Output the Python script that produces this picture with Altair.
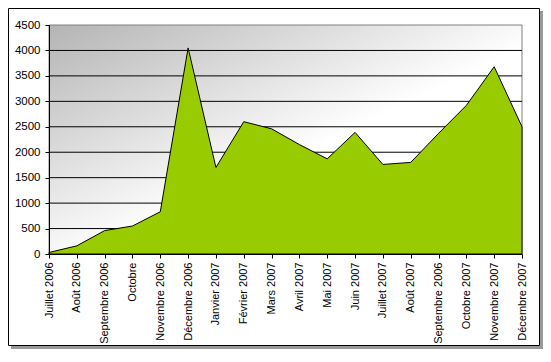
import altair as alt
import pandas as pd

months = ["Juillet 2006", "Août 2006", "Septembre 2006", "Octobre", "Novembre 2006",
          "Décembre 2006", "Janvier 2007", "Février 2007", "Mars 2007", "Avril 2007",
          "Mai 2007", "Juin 2007", "Juillet 2007", "Août 2007", "Septembre 2006",
          "Octobre 2007", "Novembre 2007", "Décembre 2007"]
values = [30, 160, 460, 550, 830, 4050, 1700, 2600, 2460, 2150, 1870, 2390,
          1760, 1800, 2370, 2920, 3680, 2500]
y_ticks = [0, 500, 1000, 1500, 2000, 2500, 3000, 3500, 4000, 4500]
grid_values = [500, 1000, 1500, 2000, 2500, 3000, 3500, 4000]

df = pd.DataFrame({"i": list(range(len(months))), "v": values})
grid_df = pd.DataFrame({"g": grid_values})
one = pd.DataFrame({"k": [0]})

W, H = 473, 229
label_expr = "[" + ",".join("'" + m + "'" for m in months) + "][datum.value]"

x_scale = alt.Scale(domain=[0, len(months) - 1], nice=False, zero=False)
y_scale = alt.Scale(domain=[0, 4500], nice=False)

x_axis = alt.Axis(values=list(range(len(months))), labelExpr=label_expr,
                  labelAngle=-90, title=None, grid=False, zindex=1,
                  labelOverlap=False, labelBound=False, labelFlush=False,
                  domainColor="black", tickColor="black", tickSize=4,
                  labelPadding=4, labelFontSize=11, labelColor="black",
                  labelFont="Liberation Sans")
y_axis = alt.Axis(values=y_ticks, title=None, grid=False, zindex=1,
                  format="d", labelOverlap=False, labelFlush=False,
                  domainColor="black", tickColor="black", tickSize=4,
                  labelPadding=5, labelFontSize=11.5, labelColor="black",
                  labelFont="Liberation Sans")

shadow = alt.Chart(one).mark_rect(fill="#9a9a9a").encode(
    x=alt.value(-38), x2=alt.value(494), y=alt.value(-14), y2=alt.value(324))
frame = alt.Chart(one).mark_rect(fill="white", stroke="black", strokeWidth=1).encode(
    x=alt.value(-40.5), x2=alt.value(490.5), y=alt.value(-16.5), y2=alt.value(320.5))

bg = alt.Chart(one).mark_rect(
    fill=alt.Gradient(gradient="linear", x1=0, y1=0, x2=1, y2=1,
                      stops=[alt.GradientStop(color="#b4b4b4", offset=0),
                             alt.GradientStop(color="#ffffff", offset=0.55),
                             alt.GradientStop(color="#ffffff", offset=1)]),
    stroke="#808080", strokeWidth=1,
).encode(
    x=alt.X(datum=0, type="quantitative", scale=x_scale, axis=x_axis),
    x2=alt.datum(len(months) - 1),
    y=alt.Y(datum=4500, type="quantitative", scale=y_scale, axis=y_axis),
    y2=alt.datum(0),
)

grid = alt.Chart(grid_df).mark_rule(color="black", strokeWidth=1).encode(
    y=alt.Y("g:Q", scale=y_scale, axis=y_axis))

area = alt.Chart(df).mark_area(color="#99CC00", stroke="black", strokeWidth=1).encode(
    x=alt.X("i:Q", scale=x_scale, axis=x_axis),
    y=alt.Y("v:Q", scale=y_scale, axis=y_axis),
)

chart = alt.layer(shadow, frame, bg, grid, area).properties(
    width=W, height=H,
    autosize=alt.AutoSizeParams(type="none"),
    padding={"left": 41, "top": 17, "right": 21, "bottom": 96},
).configure_view(stroke=None)

chart.save("out.html", embed_options={"renderer": "svg", "actions": False})
